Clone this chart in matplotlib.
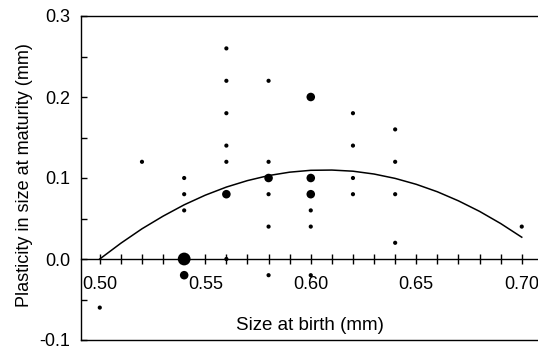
import numpy as np
import matplotlib
matplotlib.use('Agg')
import matplotlib.pyplot as plt
from matplotlib.ticker import MultipleLocator, FixedLocator

plt.rcParams['font.family'] = ['Liberation Sans', 'DejaVu Sans']
plt.rcParams['axes.unicode_minus'] = False

# points: size at birth, plasticity, number of overlapping observations
birth = [0.50, 0.52,
         0.54, 0.54, 0.54, 0.54, 0.54,
         0.56, 0.56, 0.56, 0.56, 0.56, 0.56, 0.56,
         0.58, 0.58, 0.58, 0.58, 0.58, 0.58,
         0.60, 0.60, 0.60, 0.60, 0.60, 0.60,
         0.62, 0.62, 0.62, 0.62,
         0.64, 0.64, 0.64, 0.64,
         0.70]
plast = [-0.06, 0.12,
         0.10, 0.08, 0.06, 0.00, -0.02,
         0.26, 0.22, 0.18, 0.14, 0.12, 0.08, 0.00,
         0.22, 0.12, 0.10, 0.08, 0.04, -0.02,
         0.20, 0.10, 0.08, 0.06, 0.04, -0.02,
         0.18, 0.14, 0.10, 0.08,
         0.16, 0.12, 0.08, 0.02,
         0.04]
count = [1, 1,
         1, 1, 1, 3, 2,
         1, 1, 1, 1, 1, 2, 1,
         1, 1, 2, 1, 1, 1,
         2, 2, 2, 1, 1, 1,
         1, 1, 1, 1,
         1, 1, 1, 1,
         1]

# quadratic fit line
fit_x = [0.50, 0.51, 0.52, 0.53, 0.54, 0.55, 0.56, 0.57, 0.58, 0.59, 0.60,
         0.61, 0.62, 0.63, 0.64, 0.65, 0.66, 0.67, 0.68, 0.69, 0.70]
fit_y = [0.000, 0.0195, 0.0373, 0.0529, 0.0669, 0.0788, 0.0888, 0.0968, 0.1030,
         0.1072, 0.1095, 0.1098, 0.1084, 0.1049, 0.0995, 0.0922, 0.0830, 0.0718,
         0.0588, 0.0438, 0.0269]

size_map = {1: 9, 2: 38, 3: 85}

fig = plt.figure(figsize=(5.38, 3.47), dpi=100)
ax = fig.add_axes([81 / 538, 7 / 347, 1 - 81 / 538, (340 - 16) / 347])

ax.scatter(birth, plast, s=[size_map[c] for c in count], color='black',
           linewidths=0, zorder=3)
ax.plot(fit_x, fit_y, color='black', lw=1.1, zorder=2)

ax.set_xlim(0.4911, 0.7077)
ax.set_ylim(-0.1, 0.3)

ax.spines['bottom'].set_position(('data', 0))
ax.spines['right'].set_visible(False)
ax.plot([0, 1], [0, 0], transform=ax.transAxes, color='black', lw=1.0,
        clip_on=False)

ax.xaxis.set_major_locator(FixedLocator([0.50, 0.55, 0.60, 0.65, 0.70]))
ax.xaxis.set_minor_locator(FixedLocator([0.51, 0.52, 0.53, 0.54, 0.56, 0.57, 0.58,
                                         0.59, 0.61, 0.62, 0.63, 0.64, 0.66, 0.67,
                                         0.68, 0.69]))
ax.xaxis.set_major_formatter(lambda v, p: f'{v:.2f}')
ax.tick_params(axis='x', which='both', direction='inout', length=7, width=1,
               pad=9, labelsize=13)

ax.yaxis.set_major_locator(MultipleLocator(0.1))
ax.yaxis.set_minor_locator(MultipleLocator(0.05))
ax.yaxis.set_major_formatter(lambda v, p: f'{v:.1f}')
ax.tick_params(axis='y', which='both', direction='in', length=4, width=1,
               pad=8, labelsize=13)

ax.set_xlabel('Size at birth (mm)', fontsize=13.5)
ax.xaxis.set_label_coords(0.5, 0.07)
ax.set_ylabel('Plasticity in size at maturity (mm)', fontsize=13)
ax.yaxis.set_label_coords(-0.105, 0.51)

for s in ax.spines.values():
    s.set_linewidth(1.0)

fig.savefig('out.png', dpi=100)
